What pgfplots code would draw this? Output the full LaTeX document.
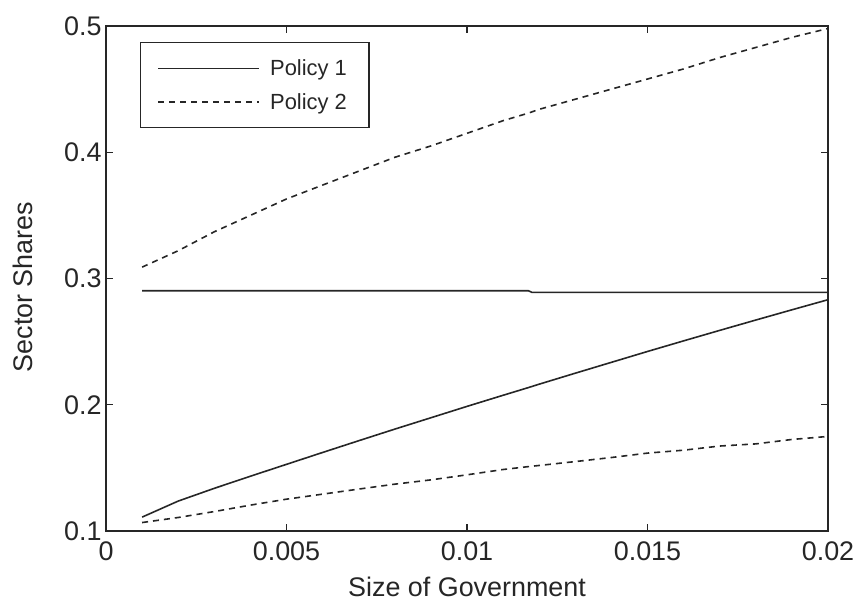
\documentclass[border=0pt]{standalone}
\usepackage{fontspec}
\setmainfont{Liberation Sans}
\usepackage{graphicx}
\usepackage{pgfplots}
\pgfplotsset{compat=1.18}
\usepackage{pgfplotstable}

\pgfplotstableread{
x     p1hi    p1lo    p2hi   p2lo
0.001 0.2903  0.1110  0.309  0.1067
0.002 0.2903  0.1237  0.322  0.1107
0.003 0.2903  0.1338  0.337  0.1154
0.004 0.2903  0.1434  0.350  0.1205
0.005 0.2903  0.1528  0.363  0.1252
0.006 0.2903  0.1622  0.374  0.1292
0.007 0.2903  0.1715  0.385  0.1332
0.008 0.2903  0.1807  0.396  0.1371
0.009 0.2903  0.1897  0.405  0.1405
0.010 0.2903  0.1987  0.415  0.1445
0.011 0.2903  0.2075  0.425  0.1487
0.0117 0.2903 0.2136  0.431  0.1510
0.0118 0.2890 0.2145  0.432  0.1513
0.012 0.2890  0.2163  0.434  0.1519
0.013 0.2890  0.2250  0.442  0.1550
0.014 0.2890  0.2336  0.450  0.1582
0.015 0.2890  0.2422  0.458  0.1617
0.016 0.2890  0.2506  0.466  0.1640
0.017 0.2890  0.2589  0.475  0.1673
0.018 0.2890  0.2671  0.483  0.1690
0.019 0.2890  0.2752  0.491  0.1725
0.020 0.2890  0.2832  0.498  0.1749
}\data

\begin{document}
\begin{tikzpicture}
\begin{axis}[
  scale only axis, width=722bp, height=505bp,
  xmin=0, xmax=0.02, ymin=0.1, ymax=0.5,
  xtick={0,0.005,0.01,0.015,0.02}, xticklabels={0,0.005,0.01,0.015,0.02},
  ytick={0.1,0.2,0.3,0.4,0.5}, yticklabels={0.1,0.2,0.3,0.4,0.5},
  scaled ticks=false,
  tick align=inside, major tick length=7bp,
  xtick pos=both, ytick pos=both,
  axis line style={line width=1.3bp, black!85},
  every tick/.style={black!85, line width=1.3bp},
  /pgf/number format/assume math mode=true,
  tick label style={font=\fontsize{27}{30}\selectfont, text=black!85},
  xticklabel style={yshift=-7bp},
  yticklabel style={xshift=-1bp},
  label style={font=\fontsize{27}{30}\selectfont, text=black!85},
  xlabel={Size of Government}, ylabel={Sector Shares},
  xlabel style={at={(axis description cs:0.5,-0.129)}, anchor=base},
  ylabel style={at={(axis description cs:-0.129,0.483)}, anchor=north, inner sep=0pt},
  legend style={at={(axis description cs:0.047,0.968)}, anchor=north west,
    draw=black!85, line width=1.3bp, font=\fontsize{22}{26}\selectfont,
    inner xsep=17bp, inner ysep=12bp, row sep=6bp, column sep=5bp,
    nodes={inner xsep=5bp, inner ysep=5bp, text=black!85}},
  legend cell align=left,
  legend image code/.code={\draw[#1] (0bp,0bp) -- (101bp,0bp);},
]
\addplot[black!85, line width=1.6bp] table[x=x, y=p1hi] {\data};
\addlegendentry{Policy 1}
\addplot[black!85, line width=1.6bp, dash pattern=on 6bp off 5bp] table[x=x, y=p2hi] {\data};
\addlegendentry{Policy 2}
\addplot[black!85, line width=1.6bp, forget plot] table[x=x, y=p1lo] {\data};
\addplot[black!85, line width=1.6bp, dash pattern=on 6bp off 5bp, forget plot] table[x=x, y=p2lo] {\data};
\end{axis}
\pgfresetboundingbox
\path (current axis.south west) ++(-106bp,-71bp) rectangle ++(858bp,602bp);
\end{tikzpicture}
\end{document}
